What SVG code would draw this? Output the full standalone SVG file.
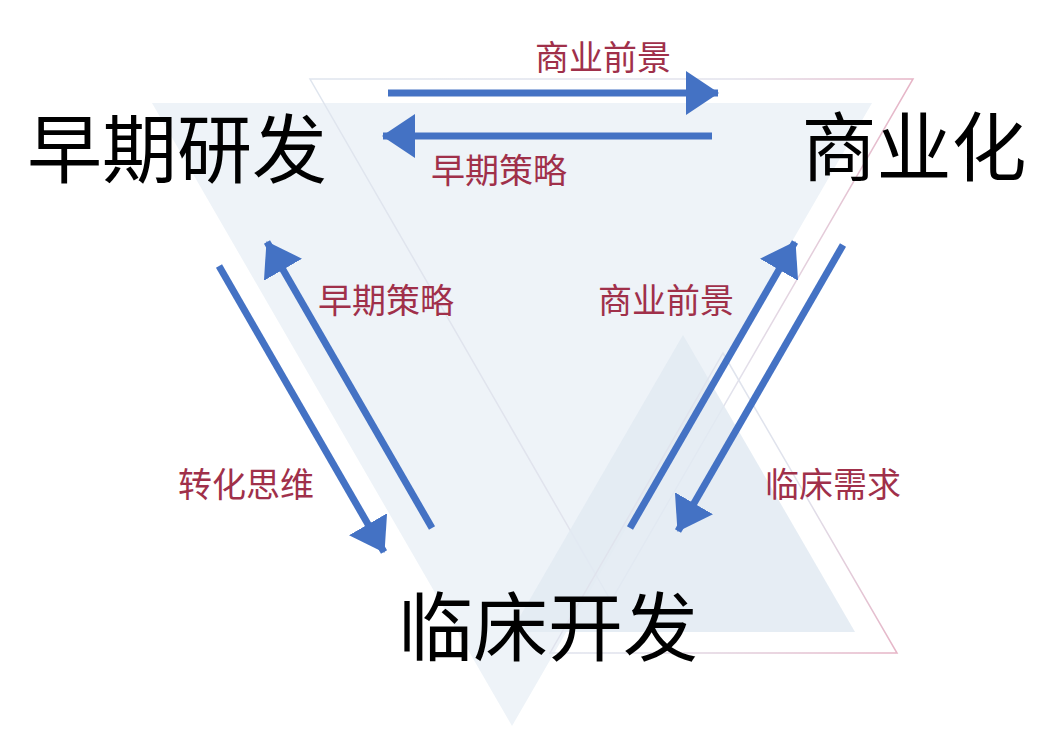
<svg xmlns="http://www.w3.org/2000/svg" width="1051" height="745" viewBox="0 0 1051 745">
<style>
.big{font-family:"Noto Sans CJK SC","Noto Sans",sans-serif;font-size:75px;fill:#000;text-anchor:middle;dominant-baseline:central}
.lbl{font-family:"Noto Sans CJK SC","Noto Sans",sans-serif;font-size:34px;fill:#A0304A;text-anchor:middle;dominant-baseline:central}
.arr{stroke:#4472C4;stroke-width:7;fill:none;marker-end:url(#ah)}
</style>
<defs>
<marker id="ah" markerUnits="userSpaceOnUse" markerWidth="34" markerHeight="44" refX="32" refY="22" orient="auto">
<path d="M0,0 L33,22 L0,44 Z" fill="#4472C4"/>
</marker>
<linearGradient id="g1" x1="0" y1="0" x2="1" y2="0">
<stop offset="0" stop-color="#dfe5ee"/>
<stop offset="0.7" stop-color="#e2e2ec"/>
<stop offset="1" stop-color="#e6b4c6"/>
</linearGradient>
<linearGradient id="g2" x1="0" y1="0" x2="1" y2="1">
<stop offset="0" stop-color="#dfe5ee"/>
<stop offset="0.6" stop-color="#e0e2ec"/>
<stop offset="1" stop-color="#e6b4c6"/>
</linearGradient>
</defs>
<g id="background">
<polygon points="152,103 872,103 512,726" fill="#EEF3F8"/>
<polygon points="310,79 913,79 611,601" fill="none" stroke="url(#g1)" stroke-width="1.5"/>
<polygon points="683,335 855,632 511,632" fill="#E2EAF2" fill-opacity="0.85"/>
<polygon points="723,353 897,653 550,653" fill="none" stroke="url(#g2)" stroke-width="1.5"/>
</g>
<g id="connectors">
<line class="arr" x1="388" y1="93" x2="718" y2="93"/>
<line class="arr" x1="712" y1="136" x2="383" y2="136"/>
<line class="arr" x1="432" y1="528" x2="267" y2="242"/>
<line class="arr" x1="219" y1="266" x2="384" y2="552"/>
<line class="arr" x1="630" y1="528" x2="795" y2="242"/>
<line class="arr" x1="843" y1="245" x2="678" y2="531"/>
</g>
<g id="labels">
<text class="lbl" x="603" y="55">商业前景</text>
<text class="lbl" x="499" y="168">早期策略</text>
<text class="lbl" x="386" y="298">早期策略</text>
<text class="lbl" x="666" y="298">商业前景</text>
<text class="lbl" x="246" y="482">转化思维</text>
<text class="lbl" x="833" y="482">临床需求</text>
</g>
<g id="node-early"><text class="big" x="177" y="144">早期研发</text></g>
<g id="node-commercial"><text class="big" x="914" y="142">商业化</text></g>
<g id="node-clinical"><text class="big" x="548" y="622">临床开发</text></g>
</svg>
